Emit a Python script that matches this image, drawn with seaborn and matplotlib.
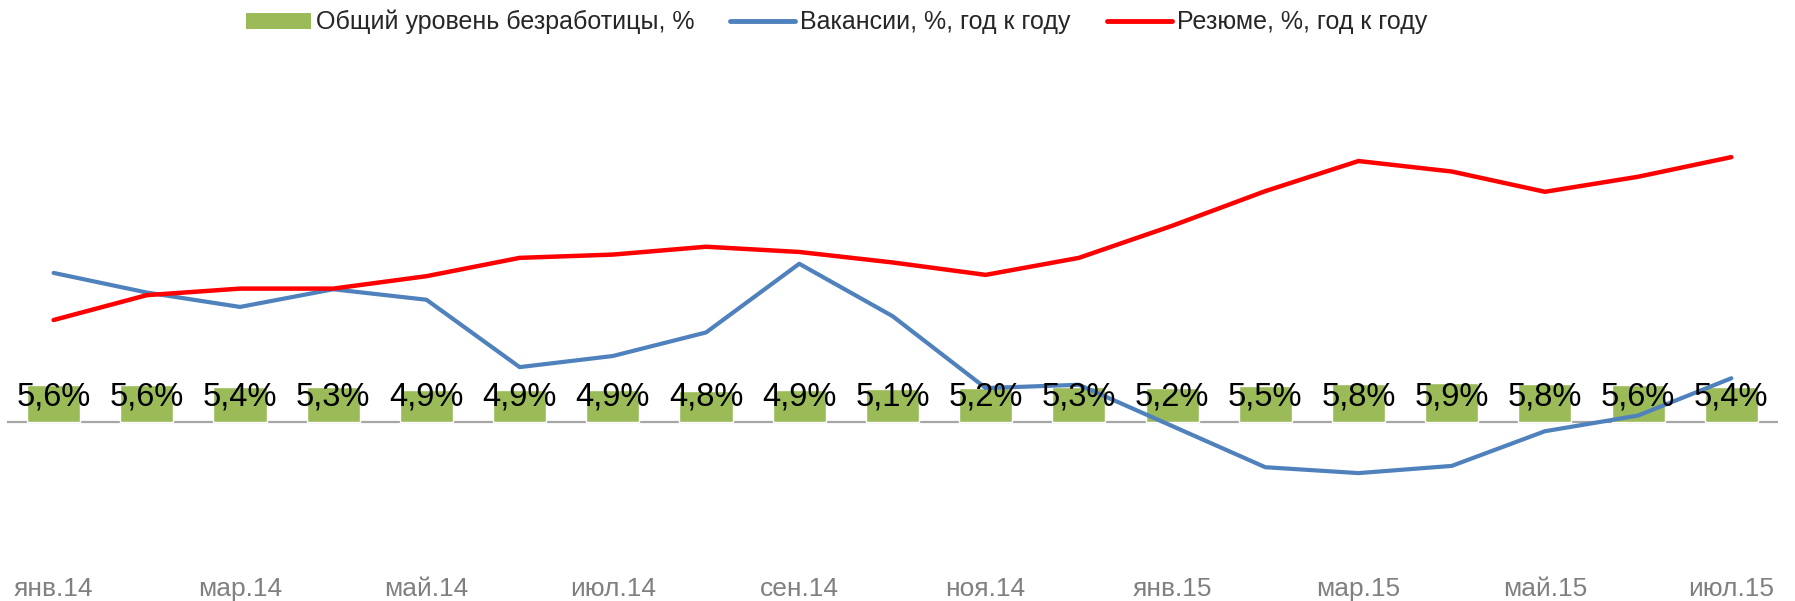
import matplotlib
matplotlib.use("Agg")
import matplotlib.pyplot as plt
import numpy as np
import pandas as pd
import seaborn as sns
from matplotlib.patches import Patch
from matplotlib.lines import Line2D


months = ["янв.14", "фев.14", "мар.14", "апр.14", "май.14", "июн.14", "июл.14", "авг.14", "сен.14", "окт.14",
          "ноя.14", "дек.14", "янв.15", "фев.15", "мар.15", "апр.15", "май.15", "июн.15", "июл.15"]
unemployment = [5.6, 5.6, 5.4, 5.3, 4.9, 4.9, 4.9, 4.8, 4.9, 5.1, 5.2, 5.3, 5.2, 5.5, 5.8, 5.9, 5.8, 5.6, 5.4]
vacancies = [22.8, 19.8, 17.6, 20.3, 18.7, 8.4, 10.1, 13.7, 24.2, 16.2, 5.2, 5.7, -0.6,
             -6.9, -7.8, -6.7, -1.4, 1.0, 6.7]
resumes = [15.6, 19.4, 20.4, 20.4, 22.3, 25.1, 25.6, 26.8, 26.0, 24.4, 22.5, 25.1, 30.0,
           35.3, 39.9, 38.3, 35.2, 37.5, 40.5]
label_bar = "Общий уровень безработицы, %"
label_vac = "Вакансии, %, год к году"
label_res = "Резюме, %, год к году"

green = "#9bbb59"
blue = "#4f81bd"
red = "#ff0000"


def main():
    sns.set_style("white")
    plt.rcParams["font.family"] = ["Liberation Sans", "DejaVu Sans"]

    df = pd.DataFrame({"idx": np.arange(len(months)), "month": months, "unemp": unemployment,
                       "vac": vacancies, "res": resumes})

    fig = plt.figure(figsize=(17.95, 6.01), dpi=100)
    ax = fig.add_axes([0.0039, 0.080, 0.9866, 0.762])

    ax.axhline(0, color="#a6a6a6", lw=1.6, zorder=1)
    sns.barplot(data=df, x="idx", y="unemp", color=green, saturation=1, width=0.57, ax=ax, zorder=2)
    sns.lineplot(data=df, x="idx", y="vac", color=blue, lw=3.0, ax=ax, zorder=3)
    sns.lineplot(data=df, x="idx", y="res", color=red, lw=3.2, ax=ax, zorder=3)

    for i, v in enumerate(unemployment):
        ax.annotate(f"{v:.1f}%".replace(".", ","), xy=(i, 0), xytext=(0, 18), textcoords="offset points",
                    ha="center", va="center", fontsize=23.5, color="black", zorder=4)

    ax.set_xlim(-0.5, len(months) - 0.5)
    ax.set_ylim(-20, 50)
    ax.set_xticks(df["idx"][::2])
    ax.set_xticklabels(df["month"][::2], fontsize=19, color="#808080")
    ax.set_yticks([])
    ax.tick_params(axis="x", length=0, pad=17)
    ax.set_xlabel("")
    ax.set_ylabel("")
    for s in ax.spines.values():
        s.set_visible(False)

    handles = [Patch(facecolor=green, edgecolor="none"),
               Line2D([0], [0], color=blue, lw=3.5),
               Line2D([0], [0], color=red, lw=3.5)]
    fig.legend(handles, [label_bar, label_vac, label_res], loc="center", bbox_to_anchor=(0.466, 0.963),
               ncol=3, frameon=False, fontsize=18, handlelength=2.6, handleheight=0.6,
               handletextpad=0.2, columnspacing=1.45)

    fig.savefig("out.png", dpi=100)


if __name__ == "__main__":
    main()
